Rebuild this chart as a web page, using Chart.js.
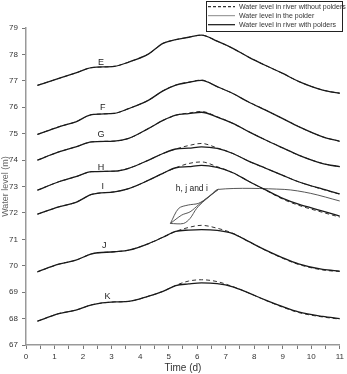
<!DOCTYPE html>
<html>
<head>
<meta charset="utf-8">
<script src="https://cdn.jsdelivr.net/npm/chart.js@4.4.1/dist/chart.umd.min.js"></script>
<style>
  html, body { margin: 0; padding: 0; background: #fff; }
</style>
</head>
<body>
<canvas id="myChart" width="347" height="374"></canvas>
<script>
// time (d) shared by the river curves
var tiempos = [0.4, 1.15, 1.75, 2.3, 3.1, 3.6, 4.3, 4.8, 5.25, 5.7, 6.15, 6.7, 7.25, 7.8, 8.4, 9.0, 9.55, 10.4, 11];

// water level in river with polders (m)
var nivel_E = [76.83, 77.09, 77.30, 77.50, 77.55, 77.71, 78.02, 78.42, 78.56, 78.65, 78.73, 78.50, 78.23, 77.90, 77.58, 77.28, 76.98, 76.65, 76.53];
var nivel_F = [74.97, 75.26, 75.45, 75.72, 75.77, 75.95, 76.27, 76.62, 76.84, 76.94, 77.02, 76.78, 76.52, 76.20, 75.89, 75.57, 75.27, 74.88, 74.71];
var nivel_G = [74.00, 74.31, 74.50, 74.69, 74.72, 74.82, 75.20, 75.50, 75.70, 75.76, 75.81, 75.63, 75.39, 75.08, 74.76, 74.46, 74.19, 73.87, 73.75];
var nivel_H = [72.86, 73.18, 73.37, 73.56, 73.58, 73.69, 74.00, 74.25, 74.42, 74.45, 74.50, 74.44, 74.25, 73.96, 73.69, 73.42, 73.18, 72.90, 72.72];
var nivel_I = [71.95, 72.23, 72.40, 72.70, 72.80, 72.92, 73.24, 73.50, 73.71, 73.75, 73.80, 73.72, 73.52, 73.20, 72.87, 72.55, 72.33, 72.07, 71.88];
var nivel_J = [69.77, 70.06, 70.21, 70.45, 70.53, 70.59, 70.84, 71.08, 71.30, 71.35, 71.37, 71.34, 71.22, 70.92, 70.59, 70.30, 70.07, 69.86, 69.80];
var nivel_K = [67.90, 68.19, 68.32, 68.52, 68.63, 68.65, 68.85, 69.03, 69.25, 69.31, 69.35, 69.32, 69.20, 68.97, 68.70, 68.45, 68.25, 68.08, 68.00];

// water level in river without polders (m)
var sin_E = [76.83, 77.09, 77.30, 77.50, 77.55, 77.71, 78.02, 78.42, 78.56, 78.65, 78.73, 78.50, 78.23, 77.90, 77.58, 77.28, 76.98, 76.65, 76.53];
var sin_F = [74.97, 75.26, 75.45, 75.72, 75.77, 75.95, 76.27, 76.62, 76.84, 76.95, 77.03, 76.78, 76.52, 76.20, 75.89, 75.57, 75.27, 74.88, 74.71];
var sin_G = [74.00, 74.31, 74.50, 74.69, 74.72, 74.82, 75.20, 75.50, 75.70, 75.78, 75.84, 75.64, 75.39, 75.08, 74.76, 74.46, 74.19, 73.87, 73.75];
var sin_H = [72.86, 73.18, 73.37, 73.56, 73.58, 73.69, 74.00, 74.25, 74.42, 74.55, 74.63, 74.46, 74.25, 73.96, 73.69, 73.42, 73.18, 72.89, 72.71];
var sin_I = [71.95, 72.23, 72.40, 72.70, 72.80, 72.92, 73.24, 73.50, 73.71, 73.87, 73.93, 73.75, 73.52, 73.20, 72.86, 72.52, 72.29, 72.02, 71.84];
var sin_J = [69.77, 70.06, 70.21, 70.45, 70.53, 70.59, 70.84, 71.08, 71.30, 71.45, 71.53, 71.42, 71.23, 70.92, 70.58, 70.28, 70.05, 69.84, 69.78];
var sin_K = [67.90, 68.19, 68.32, 68.52, 68.63, 68.65, 68.85, 69.03, 69.26, 69.42, 69.47, 69.40, 69.21, 68.97, 68.69, 68.43, 68.23, 68.06, 67.98];

// water level in the polders h, j and i
var tiempo_polder1 = [5.06, 5.35, 5.69, 6.04, 6.40, 6.74, 9.05, 9.98, 11];
var polder1 = [71.60, 72.17, 72.30, 72.36, 72.60, 72.89, 72.89, 72.74, 72.45];
var tiempo_polder2 = [5.06, 5.46, 5.75, 6.04, 6.40, 6.74];
var polder2 = [71.60, 71.92, 72.04, 72.30, 72.62, 72.89];
var tiempo_polder3 = [5.06, 5.52, 5.75, 5.98, 6.27, 6.74];
var polder3 = [71.60, 71.60, 71.79, 72.17, 72.48, 72.89];

var nombres = ["E", "F", "G", "H", "I", "J", "K"];
var leyenda = ["Water level in river without polders", "Water level in the polder", "Water level in river with polders"];

// where the curve names sit (time, level)
var etiquetas = ["E", "F", "G", "H", "I", "J", "K", "h, j and i"];
var etiqueta_t = [2.63, 2.69, 2.63, 2.63, 2.69, 2.74, 2.86, 5.81];
var etiqueta_y = [77.70, 76.00, 74.95, 73.71, 72.99, 70.78, 68.85, 72.90];

function puntos(xs, ys) {
  var out = [];
  for (var i = 0; i < xs.length; i++) out.push({x: xs[i], y: ys[i]});
  return out;
}

var conPolders = [nivel_E, nivel_F, nivel_G, nivel_H, nivel_I, nivel_J, nivel_K];
var sinPolders = [sin_E, sin_F, sin_G, sin_H, sin_I, sin_J, sin_K];

var datasets = [];
for (var i = 0; i < nombres.length; i++) {
  datasets.push({
    label: nombres[i] + " with polders",
    data: puntos(tiempos, conPolders[i]),
    borderColor: "#1a1a1a", borderWidth: 1.3, pointRadius: 0,
    cubicInterpolationMode: "monotone", fill: false
  });
}
var polders = [[tiempo_polder1, polder1], [tiempo_polder2, polder2], [tiempo_polder3, polder3]];
for (var j = 0; j < polders.length; j++) {
  datasets.push({
    label: "polder " + (j + 1),
    data: puntos(polders[j][0], polders[j][1]),
    borderColor: "#444", borderWidth: 0.9, pointRadius: 0,
    tension: 0.3, fill: false
  });
}
for (var k = 0; k < nombres.length; k++) {
  datasets.push({
    label: nombres[k] + " without polders",
    data: puntos(tiempos, sinPolders[k]),
    borderColor: "#333", borderWidth: 1, borderDash: [4, 3], pointRadius: 0,
    cubicInterpolationMode: "monotone", fill: false
  });
}

var textos = {
  id: "textos",
  afterDraw: function (chart) {
    var ctx = chart.ctx;
    var xs = chart.scales.x, ys = chart.scales.y;
    ctx.save();
    ctx.fillStyle = "#222";
    ctx.textAlign = "center";
    ctx.textBaseline = "middle";
    for (var i = 0; i < etiquetas.length; i++) {
      ctx.font = (i < 7 ? "9px" : "8.5px") + " 'Liberation Sans', Arial, sans-serif";
      ctx.fillText(etiquetas[i], xs.getPixelForValue(etiqueta_t[i]), ys.getPixelForValue(etiqueta_y[i]));
    }

    // legend box
    ctx.strokeStyle = "#222";
    ctx.lineWidth = 1;
    ctx.strokeRect(206.5, 1.5, 136, 30);
    var filas = [6.7, 15.7, 24.7];
    var colores = ["#333", "#888", "#111"];
    for (var r = 0; r < leyenda.length; r++) {
      ctx.beginPath();
      ctx.setLineDash(r === 0 ? [3, 2] : []);
      ctx.strokeStyle = colores[r];
      ctx.lineWidth = r === 1 ? 1 : 1.2;
      ctx.moveTo(208, filas[r]);
      ctx.lineTo(235, filas[r]);
      ctx.stroke();
      ctx.setLineDash([]);
      ctx.font = "7px 'Liberation Sans', Arial, sans-serif";
      ctx.textAlign = "left";
      ctx.fillStyle = "#333";
      ctx.fillText(leyenda[r], 239, filas[r] + 0.5);
    }
    ctx.restore();
  }
};

new Chart(document.getElementById("myChart"), {
  type: "line",
  data: { datasets: datasets },
  plugins: [textos],
  options: {
    responsive: false,
    animation: false,
    layout: { padding: { top: 28, right: 4, left: 0, bottom: 0 } },
    plugins: { legend: { display: false }, tooltip: { enabled: false } },
    scales: {
      x: {
        type: "linear", min: 0, max: 11,
        afterFit: function (s) { s.height = 29; },
        grid: { drawOnChartArea: false, tickLength: 4, color: "#777" },
        border: { color: "#999", width: 1.5 },
        ticks: {
          stepSize: 0.5, autoSkip: false, maxRotation: 0, padding: 3,
          color: "#333", font: { size: 8, family: "'Liberation Sans', Arial, sans-serif" },
          callback: function (v) { return Number.isInteger(v) ? v : ""; }
        },
        title: { display: true, text: "Time (d)", color: "#333", padding: { top: 2, bottom: 0 },
          font: { size: 10, family: "'Liberation Sans', Arial, sans-serif" } }
      },
      y: {
        min: 67, max: 79,
        afterFit: function (s) { s.width = 26; },
        grid: { drawOnChartArea: false, tickLength: 4, color: "#777" },
        border: { color: "#999", width: 1.5 },
        ticks: {
          stepSize: 1, padding: 4, color: "#333",
          font: { size: 8, family: "'Liberation Sans', Arial, sans-serif" }
        },
        title: { display: true, text: "Water level (m)", color: "#666", padding: { top: 0, bottom: 0 },
          font: { size: 9, family: "'Liberation Sans', Arial, sans-serif" } }
      }
    }
  }
});
</script>
</body>
</html>
